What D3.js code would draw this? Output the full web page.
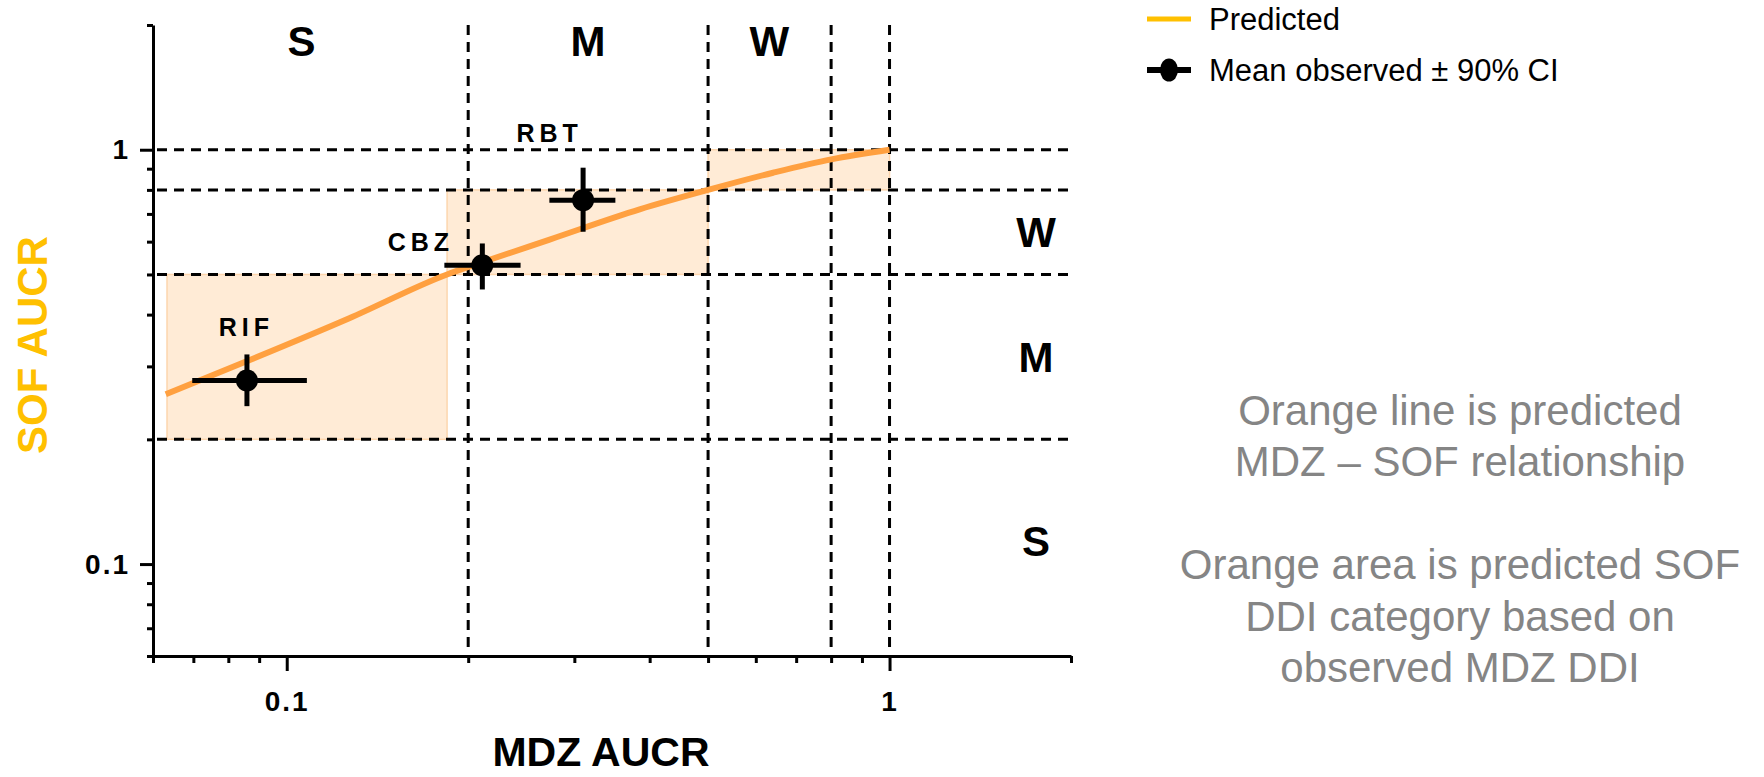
<!DOCTYPE html>
<html>
<head>
<meta charset="utf-8">
<script src="https://cdn.jsdelivr.net/npm/d3@7"></script>
<style>
  body { margin: 0; background: #fff; }
  svg { font-family: "Liberation Sans", Arial, sans-serif; }
  .axis path, .axis line { stroke: #000; stroke-width: 3px; }
  .axis text { font-size: 28px; font-weight: bold; fill: #000; letter-spacing: 2px; }
  .cut { stroke: #000; stroke-width: 3px; stroke-dasharray: 10 7; fill: none; }
  .band { fill: #ffebd6; stroke: #fdd6ae; stroke-width: 1.5px; }
  .cat { font-size: 42px; font-weight: bold; }
  .drug { font-size: 25px; font-weight: bold; letter-spacing: 5px; }
  .note { font-size: 42px; fill: #858585; }
</style>
</head>
<body>
<script>
const width = 1764;
const height = 777;

// predicted MDZ - SOF relationship
const predMdz = [0.063, 0.086, 0.127, 0.1845, 0.211, 0.273, 0.385, 0.5, 0.641, 0.8, 1.0];
const predSof = [0.257, 0.309, 0.392, 0.5, 0.535, 0.607, 0.718, 0.8, 0.88, 0.948, 1.0];

// observed: mean and 90% CI
const drugs = ["RIF", "CBZ", "RBT"];
const obsMdz = [0.0859, 0.2111, 0.3102];
const obsMdzLo = [0.0697, 0.1826, 0.2727];
const obsMdzHi = [0.108, 0.2443, 0.3509];
const obsSof = [0.2774, 0.5265, 0.7557];
const obsSofLo = [0.2405, 0.46, 0.634];
const obsSofHi = [0.3206, 0.594, 0.905];

// predicted SOF category boxes
const boxMdzLo = [0.0633, 0.1845, 0.5];
const boxMdzHi = [0.1845, 0.5, 1.0];
const boxSofLo = [0.2, 0.5, 0.8];
const boxSofHi = [0.5, 0.8, 1.0];

// DDI category cut-offs
const mdzCuts = [0.2, 0.5, 0.8, 1];
const sofCuts = [0.2, 0.5, 0.8, 1];
const categories = ["S", "M", "W"];
const catMdzPos = [0.1058, 0.316, 0.632];
const catSofPos = [0.1133, 0.316, 0.632];

const majorTicks = [0.1, 1];
const minorTicks = [0.06, 0.07, 0.08, 0.09, 0.2, 0.3, 0.4, 0.5, 0.6, 0.7, 0.8, 0.9, 2];

// label offsets (px) for drug names
const drugLabelOffset = [[-3, -53], [-64, -23], [-36, -67]];

const svg = d3.select("body").append("svg")
  .attr("width", width)
  .attr("height", height);

const x = d3.scaleLog().domain([0.06, 2]).range([153, 1071]);
const y = d3.scaleLog().domain([0.06, 2]).range([656, 25]);

// shaded boxes
svg.append("g").selectAll("rect")
  .data(d3.range(boxMdzLo.length))
  .join("rect")
  .attr("class", "band")
  .attr("x", i => x(boxMdzLo[i]))
  .attr("y", i => y(boxSofHi[i]))
  .attr("width", i => x(boxMdzHi[i]) - x(boxMdzLo[i]))
  .attr("height", i => y(boxSofLo[i]) - y(boxSofHi[i]));

// cut-off lines
svg.append("g").selectAll("line")
  .data(mdzCuts)
  .join("line")
  .attr("class", "cut")
  .attr("x1", d => x(d)).attr("x2", d => x(d))
  .attr("y1", y(2)).attr("y2", y(0.06) - 4);

svg.append("g").selectAll("line")
  .data(sofCuts)
  .join("line")
  .attr("class", "cut")
  .attr("x1", x(0.06) + 4).attr("x2", x(2))
  .attr("y1", d => y(d)).attr("y2", d => y(d));

// axes
const gx = svg.append("g").attr("class", "axis").attr("transform", `translate(0,${y(0.06)})`);
gx.call(d3.axisBottom(x).tickValues(minorTicks).tickSize(7).tickSizeOuter(0).tickFormat(""));
gx.append("g").call(d3.axisBottom(x).tickValues(majorTicks).tickSize(15).tickSizeOuter(0)
  .tickPadding(20).tickFormat(d3.format("")))
  .call(g => g.select(".domain").remove());

const gy = svg.append("g").attr("class", "axis").attr("transform", `translate(${x(0.06)},0)`);
gy.call(d3.axisLeft(y).tickValues(minorTicks).tickSize(6).tickSizeOuter(0).tickFormat(""));
gy.append("g").call(d3.axisLeft(y).tickValues(majorTicks).tickSize(13).tickSizeOuter(0)
  .tickPadding(10).tickFormat(d3.format("")))
  .call(g => g.select(".domain").remove());

svg.selectAll(".axis text").attr("font-family", null);

// predicted line
const line = d3.line().x(i => x(predMdz[i])).y(i => y(predSof[i])).curve(d3.curveMonotoneX);
svg.append("path")
  .attr("d", line(d3.range(predMdz.length)))
  .attr("fill", "none")
  .attr("stroke", "#ffa040")
  .attr("stroke-width", 6);

// observed points
const pts = svg.append("g").selectAll("g")
  .data(d3.range(drugs.length))
  .join("g");

pts.append("line")
  .attr("x1", i => x(obsMdzLo[i])).attr("x2", i => x(obsMdzHi[i]))
  .attr("y1", i => y(obsSof[i])).attr("y2", i => y(obsSof[i]))
  .attr("stroke", "#000").attr("stroke-width", 5);
pts.append("line")
  .attr("x1", i => x(obsMdz[i])).attr("x2", i => x(obsMdz[i]))
  .attr("y1", i => y(obsSofLo[i])).attr("y2", i => y(obsSofHi[i]))
  .attr("stroke", "#000").attr("stroke-width", 5);
pts.append("circle")
  .attr("cx", i => x(obsMdz[i])).attr("cy", i => y(obsSof[i]))
  .attr("r", 11).attr("fill", "#000");
pts.append("text")
  .attr("class", "drug")
  .attr("x", i => x(obsMdz[i]) + drugLabelOffset[i][0] + 2.5)
  .attr("y", i => y(obsSof[i]) + drugLabelOffset[i][1])
  .attr("text-anchor", "middle")
  .attr("dominant-baseline", "central")
  .text(i => drugs[i]);

// category labels
svg.append("g").selectAll("text")
  .data(categories)
  .join("text")
  .attr("class", "cat")
  .attr("x", (d, i) => x(catMdzPos[i]))
  .attr("y", 41)
  .attr("text-anchor", "middle")
  .attr("dominant-baseline", "central")
  .text(d => d);

svg.append("g").selectAll("text")
  .data(categories)
  .join("text")
  .attr("class", "cat")
  .attr("x", 1036)
  .attr("y", (d, i) => y(catSofPos[i]))
  .attr("text-anchor", "middle")
  .attr("dominant-baseline", "central")
  .text(d => d);

// axis titles
svg.append("text")
  .attr("transform", "translate(47,345) rotate(-90)")
  .attr("text-anchor", "middle")
  .attr("font-size", 42).attr("font-weight", "bold")
  .attr("fill", "#ffc000")
  .text("SOF AUCR");

svg.append("text")
  .attr("x", 601).attr("y", 766)
  .attr("text-anchor", "middle")
  .attr("font-size", 41).attr("font-weight", "bold")
  .text("MDZ AUCR");

// legend
const legend = svg.append("g");
legend.append("line")
  .attr("x1", 1147).attr("x2", 1191).attr("y1", 19).attr("y2", 19)
  .attr("stroke", "#ffc000").attr("stroke-width", 5);
legend.append("text")
  .attr("x", 1209).attr("y", 19).attr("dominant-baseline", "central")
  .attr("font-size", 31).text("Predicted");
legend.append("line")
  .attr("x1", 1147).attr("x2", 1191).attr("y1", 70).attr("y2", 70)
  .attr("stroke", "#000").attr("stroke-width", 6);
legend.append("ellipse")
  .attr("cx", 1169).attr("cy", 70).attr("rx", 9).attr("ry", 11.5).attr("fill", "#000");
legend.append("text")
  .attr("x", 1209).attr("y", 70).attr("dominant-baseline", "central")
  .attr("font-size", 31).text("Mean observed ± 90% CI");

// notes
const notes = ["Orange line is predicted", "MDZ – SOF relationship", "",
  "Orange area is predicted SOF", "DDI category based on", "observed MDZ DDI"];
svg.append("g").selectAll("text")
  .data(notes)
  .join("text")
  .attr("class", "note")
  .attr("x", 1460)
  .attr("y", (d, i) => 410 + i * 51.5)
  .attr("text-anchor", "middle")
  .attr("dominant-baseline", "central")
  .text(d => d);
</script>
</body>
</html>
